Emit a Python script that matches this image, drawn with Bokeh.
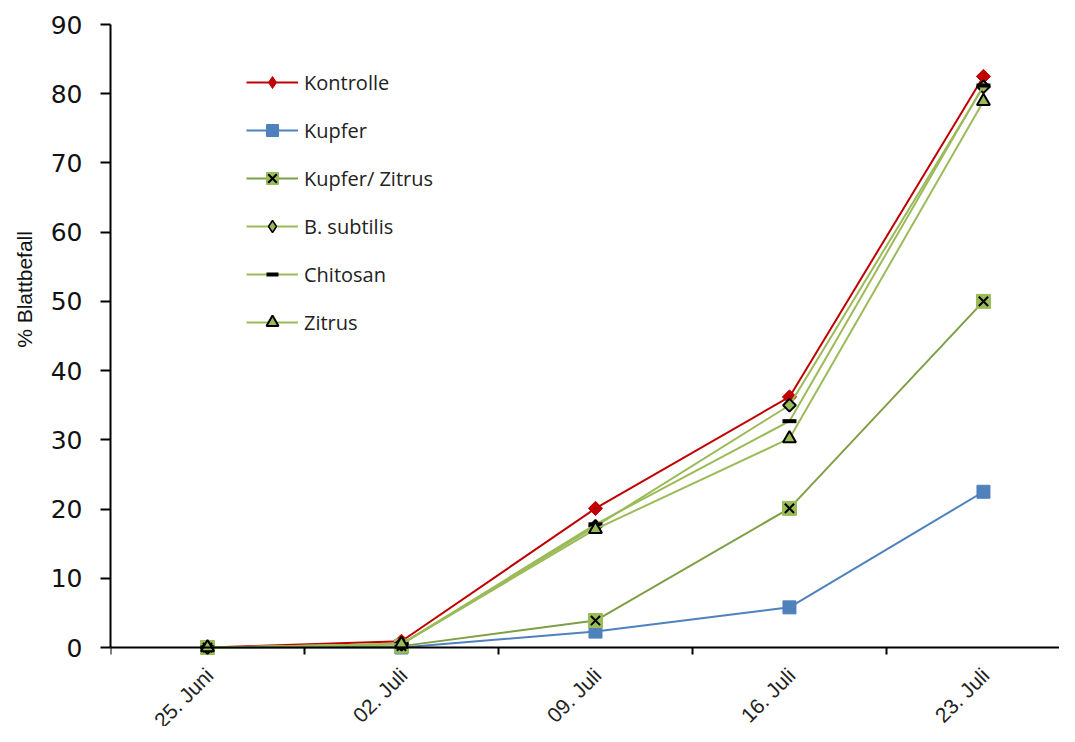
import math
from bokeh.plotting import figure
from bokeh.layouts import row
from bokeh.core.properties import value
from bokeh.models import (FixedTicker, Range1d, Legend, LegendItem, LinearAxis,
                          LabelSet, Label, ColumnDataSource)
from bokeh.embed import file_html
from bokeh.resources import INLINE

dates = ["25. Juni", "02. Juli", "09. Juli", "16. Juli", "23. Juli"]
kontrolle = [0, 0.9, 20.1, 36.2, 82.5]
kupfer = [0, 0, 2.3, 5.8, 22.5]
kupfer_zitrus = [0, 0.2, 3.9, 20.1, 50.0]
b_subtilis = [0, 0.5, 17.5, 35.0, 81.0]
chitosan = [0, 0.5, 17.8, 32.7, 81.2]
zitrus = [0, 0.5, 17.1, 30.2, 78.9]
y_ticks = list(range(0, 100, 10))
y_title = "% Blattbefall"

x = list(range(len(dates)))
NAN = [float("nan")]

H = 726
# ---------------- title strip on the left ----------------
tf = figure(width=40, height=H, output_backend="svg", toolbar_location=None,
            x_range=Range1d(0, 40), y_range=Range1d(0, H),
            x_axis_location=None, y_axis_location=None,
            min_border_left=0, min_border_right=0, min_border_top=0, min_border_bottom=0)
tf.outline_line_color = None
tf.grid.visible = False
tf.add_layout(Label(x=24, y=H - 274, text=y_title, angle=math.pi / 2,
                    text_align="center", text_baseline="middle",
                    text_font="Liberation Sans", text_font_size="21px", text_color="#111111"))

# ---------------- main chart ----------------
p = figure(width=1019, height=H, output_backend="svg", toolbar_location=None,
           x_range=Range1d(-0.5, 4.392), y_range=Range1d(-11.41, 90),
           x_axis_location=None,
           min_border_left=70, min_border_right=0, min_border_top=24, min_border_bottom=0)
p.outline_line_color = None
p.grid.visible = False
p.background_fill_color = "white"

# x axis line + between-category ticks at y = 0
xa = LinearAxis()
xa.ticker = FixedTicker(ticks=[], minor_ticks=[i - 0.5 for i in range(len(dates) + 1)])
xa.major_tick_out = 0
xa.major_tick_in = 0
xa.minor_tick_out = 7
xa.minor_tick_in = 0
xa.minor_tick_line_width = 2
xa.minor_tick_line_color = "black"
xa.axis_line_width = 2
xa.axis_line_color = "black"
xa.major_label_text_font_size = "0px"
xa.major_label_standoff = 0
xa.fixed_location = 0
p.add_layout(xa, "below")

# category labels, rotated 45 degrees below the axis
lab_src = ColumnDataSource(dict(x=x, y=[0] * len(dates), text=dates))
labels = LabelSet(x="x", y="y", text="text", source=lab_src,
                  angle=math.pi / 4, text_align="right", text_baseline="top",
                  x_offset=-6, y_offset=-16,
                  text_font=value("Liberation Sans"), text_font_size=value("21px"),
                  text_color="#222222")
p.add_layout(labels)

ya = p.yaxis[0]
ya.ticker = FixedTicker(ticks=y_ticks, minor_ticks=[])
ya.bounds = (0, 90)
ya.major_tick_out = 10
ya.major_tick_in = 0
ya.major_tick_line_width = 2
ya.axis_line_width = 2
ya.axis_line_color = "black"
ya.major_label_text_font = "DejaVu Sans"
ya.major_label_text_font_size = "25px"
ya.major_label_text_color = "#111111"
ya.major_label_standoff = 18

items = []

# Kontrolle
l1 = p.line(x, kontrolle, line_color="#C00000", line_width=2)
m1 = p.scatter(x, kontrolle, marker="square", angle=math.pi / 4, size=10,
               fill_color="#C00000", line_color="#C00000")
g1 = p.scatter(NAN, NAN, marker="diamond", size=16, fill_color="#C00000", line_color="#C00000")
items.append(LegendItem(label="Kontrolle", renderers=[l1, g1]))

# Kupfer
l2 = p.line(x, kupfer, line_color="#4F81BD", line_width=2)
m2 = p.scatter(x, kupfer, marker="square", size=13, fill_color="#4F81BD", line_color="#4F81BD")
items.append(LegendItem(label="Kupfer", renderers=[l2, m2]))

# Kupfer/ Zitrus
l3 = p.line(x, kupfer_zitrus, line_color="#7F9F45", line_width=2)
m3a = p.scatter(x, kupfer_zitrus, marker="square", size=14, fill_color="#9BBB59", line_color="#9BBB59")
m3b = p.scatter(x, kupfer_zitrus, marker="x", size=13, line_color="black", line_width=2)
items.append(LegendItem(label="Kupfer/ Zitrus", renderers=[l3, m3a, m3b]))

# B. subtilis
l4 = p.line(x, b_subtilis, line_color="#9BBB59", line_width=2)
m4 = p.scatter(x, b_subtilis, marker="square", angle=math.pi / 4, size=9,
               fill_color="#9BBB59", line_color="black", line_width=2)
g4 = p.scatter(NAN, NAN, marker="diamond", size=16, fill_color="#9BBB59", line_color="black", line_width=1.5)
items.append(LegendItem(label="B. subtilis", renderers=[l4, g4]))

# Chitosan
l5 = p.line(x, chitosan, line_color="#9BBB59", line_width=2)
m5 = p.scatter(x, chitosan, marker="dash", size=14, line_color="black", line_width=4)
items.append(LegendItem(label="Chitosan", renderers=[l5, m5]))

# Zitrus
l6 = p.line(x, zitrus, line_color="#9BBB59", line_width=2)
m6 = p.scatter(x, zitrus, marker="triangle", size=13, fill_color="#9BBB59", line_color="black", line_width=2)
items.append(LegendItem(label="Zitrus", renderers=[l6, m6]))

legend = Legend(items=items, location=(136, 389))
legend.glyph_width = 52
legend.glyph_height = 30
legend.label_height = 30
legend.spacing = 18
legend.padding = 0
legend.margin = 0
legend.label_standoff = 6
legend.border_line_color = None
legend.background_fill_alpha = 0
legend.label_text_font = "Open Sans"
legend.label_text_font_size = "20px"
legend.label_text_color = "#222222"
p.add_layout(legend)

layout = row(tf, p, spacing=0)
open("out.html", "w").write(file_html(layout, INLINE))
